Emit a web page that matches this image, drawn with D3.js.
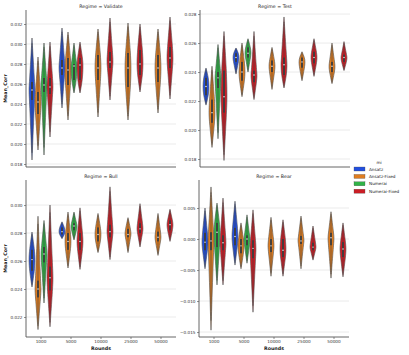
<!DOCTYPE html>
<html><head><meta charset="utf-8">
<script src="https://cdn.jsdelivr.net/npm/d3@7"></script>
<style>body{margin:0;background:#fff}svg{display:block}text{font-family:"DejaVu Sans",sans-serif}</style>
</head><body>
<svg id="c" width="409" height="355"></svg>
<script>
const rounds = ["1000","5000","10000","25000","50000"];
const models = ["Ansatz","Ansatz-Fixed","Numerai","Numerai-Fixed"];
const colors = ["#224fdf","#df7d20","#30b347","#cb1d25"];
// [round, model, low tip, q1, median, q3, high tip]
const validateStats = [
 ["1000","Ansatz",0.0184,0.0244,0.0254,0.0262,0.0306],
 ["1000","Ansatz-Fixed",0.0194,0.0230,0.0242,0.0252,0.0287],
 ["1000","Numerai",0.0189,0.0252,0.0259,0.0266,0.0301],
 ["1000","Numerai-Fixed",0.0207,0.0250,0.0257,0.0266,0.0302],
 ["5000","Ansatz",0.0236,0.0269,0.0276,0.0284,0.0316],
 ["5000","Ansatz-Fixed",0.0224,0.0259,0.0274,0.0286,0.0312],
 ["5000","Numerai",0.0251,0.0264,0.0278,0.0280,0.0301],
 ["5000","Numerai-Fixed",0.0251,0.0264,0.0279,0.0286,0.0302],
 ["10000","Ansatz-Fixed",0.0227,0.0264,0.0276,0.0289,0.0315],
 ["10000","Numerai-Fixed",0.0244,0.0276,0.0282,0.0292,0.0326],
 ["25000","Ansatz-Fixed",0.0224,0.0257,0.0276,0.0291,0.0321],
 ["25000","Numerai-Fixed",0.0252,0.0269,0.0280,0.0294,0.0320],
 ["50000","Ansatz-Fixed",0.0231,0.0262,0.0276,0.0289,0.0315],
 ["50000","Numerai-Fixed",0.0245,0.0276,0.0286,0.0297,0.0327]
];
const testStats = [
 ["1000","Ansatz",0.02172,0.0224,0.0230,0.0236,0.02428],
 ["1000","Ansatz-Fixed",0.0188,0.0205,0.0212,0.0221,0.0244],
 ["1000","Numerai",0.0194,0.0229,0.0236,0.0240,0.0259],
 ["1000","Numerai-Fixed",0.0179,0.0212,0.0223,0.0241,0.0268],
 ["5000","Ansatz",0.02386,0.0247,0.0250,0.0253,0.02566],
 ["5000","Ansatz-Fixed",0.0223,0.0234,0.0240,0.0247,0.0260],
 ["5000","Numerai",0.0240,0.0250,0.0253,0.0257,0.0263],
 ["5000","Numerai-Fixed",0.0221,0.0233,0.0238,0.0241,0.0268],
 ["10000","Ansatz-Fixed",0.0228,0.0240,0.0244,0.0248,0.0257],
 ["10000","Numerai-Fixed",0.0229,0.0238,0.0245,0.0250,0.0278],
 ["25000","Ansatz-Fixed",0.0234,0.0243,0.0247,0.0250,0.0254],
 ["25000","Numerai-Fixed",0.0237,0.0246,0.0250,0.0254,0.0263],
 ["50000","Ansatz-Fixed",0.0232,0.0240,0.0244,0.0247,0.0260],
 ["50000","Numerai-Fixed",0.0241,0.0247,0.0250,0.0252,0.0261]
];
const bullStats = [
 ["1000","Ansatz",0.02414,0.0253,0.0261,0.0268,0.02807],
 ["1000","Ansatz-Fixed",0.0211,0.0234,0.0240,0.0246,0.0292],
 ["1000","Numerai",0.0230,0.0259,0.0265,0.0270,0.0289],
 ["1000","Numerai-Fixed",0.0213,0.0239,0.0248,0.0256,0.0300],
 ["5000","Ansatz",0.0276,0.0279,0.0281,0.0284,0.0288],
 ["5000","Ansatz-Fixed",0.0255,0.0268,0.0274,0.0280,0.0295],
 ["5000","Numerai",0.0275,0.0282,0.0285,0.0287,0.0295],
 ["5000","Numerai-Fixed",0.0254,0.0268,0.0274,0.0280,0.0298],
 ["10000","Ansatz-Fixed",0.0266,0.0274,0.0279,0.0284,0.0294],
 ["10000","Numerai-Fixed",0.0261,0.0277,0.0281,0.0286,0.0313],
 ["25000","Ansatz-Fixed",0.0266,0.0277,0.0279,0.0283,0.0291],
 ["25000","Numerai-Fixed",0.0270,0.0280,0.0283,0.0287,0.0301],
 ["50000","Ansatz-Fixed",0.0264,0.0274,0.0277,0.0281,0.0294],
 ["50000","Numerai-Fixed",0.0274,0.0282,0.0286,0.0289,0.0297]
];
const bearStats = [
 ["1000","Ansatz",-0.0048,-0.0018,-0.0005,0.0010,0.0050],
 ["1000","Ansatz-Fixed",-0.0147,-0.0018,-0.0003,0.0011,0.0084],
 ["1000","Numerai",-0.0074,-0.0013,0.0011,0.0026,0.0058],
 ["1000","Numerai-Fixed",-0.0074,-0.0018,-0.0006,0.0006,0.0066],
 ["5000","Ansatz",-0.0042,-0.0010,0.0004,0.0018,0.0061],
 ["5000","Ansatz-Fixed",-0.0048,-0.0023,-0.0011,0.0000,0.0026],
 ["5000","Numerai",-0.0039,-0.0010,0.0000,0.0006,0.0039],
 ["5000","Numerai-Fixed",-0.0118,-0.0031,-0.0015,-0.0002,0.0047],
 ["10000","Ansatz-Fixed",-0.0060,-0.0021,-0.0011,0.0000,0.0035],
 ["10000","Numerai-Fixed",-0.0060,-0.0029,-0.0018,0.0000,0.0031],
 ["25000","Ansatz-Fixed",-0.0048,-0.0008,-0.0003,0.0005,0.0037],
 ["25000","Numerai-Fixed",-0.0034,-0.0018,-0.0013,-0.0006,0.0021],
 ["50000","Ansatz-Fixed",-0.0063,-0.0010,0.0002,0.0010,0.0044],
 ["50000","Numerai-Fixed",-0.0061,-0.0029,-0.0016,-0.0005,0.0026]
];
const validateTicks = [0.018,0.020,0.022,0.024,0.026,0.028,0.030,0.032];
const testTicks = [0.018,0.020,0.022,0.024,0.026,0.028];
const bullTicks = [0.022,0.024,0.026,0.028,0.030];
const bearTicks = [-0.015,-0.010,-0.005,0.000,0.005];

const panels = [
 {title:"Regime = Validate", data:validateStats, ticks:validateTicks, x0:26, x1:176, yTop:10, yBot:167, dom:[0.0177,0.0334], xlab:false},
 {title:"Regime = Test", data:testStats, ticks:testTicks, x0:200, x1:350, yTop:10, yBot:167, dom:[0.01745,0.02828], xlab:false},
 {title:"Regime = Bull", data:bullStats, ticks:bullTicks, x0:26, x1:176, yTop:180, yBot:337, dom:[0.02057,0.03179], xlab:true},
 {title:"Regime = Bear", data:bearStats, ticks:bearTicks, x0:199, x1:349, yTop:180, yBot:337, dom:[-0.0158,0.00952], xlab:true}
];
const svg = d3.select("#c");
const fmt = v => d3.format(".3f")(v).replace("-", "\u2212");
const colorOf = d3.scaleOrdinal().domain(models).range(colors);

panels.forEach((p, pi) => {
  const g = svg.append("g");
  const x = d3.scaleBand().domain(rounds).range([p.x0, p.x1]);
  const hue = d3.scaleBand().domain(models).range([0, x.bandwidth()*0.8]);
  const y = d3.scaleLinear().domain(p.dom).range([p.yBot, p.yTop]);
  // grid
  g.selectAll(".grid").data(p.ticks).enter().append("line")
    .attr("x1", p.x0).attr("x2", p.x1)
    .attr("y1", d => y(d)).attr("y2", d => y(d))
    .attr("stroke", "#e6e6e6").attr("stroke-width", 0.8);
  // y axis
  const ya = d3.axisLeft(y).tickValues(p.ticks).tickFormat(fmt).tickSize(2).tickPadding(1.5);
  const yg = g.append("g").attr("transform", `translate(${p.x0},0)`).call(ya);
  yg.select(".domain").remove();
  yg.selectAll("line").attr("stroke", "#444").attr("stroke-width", 0.6);
  yg.selectAll("text").attr("font-size", 4.2).attr("fill", "#333").attr("font-family", "DejaVu Sans");
  // x axis
  const xa = d3.axisBottom(x).tickSize(p.xlab ? 2 : 0).tickPadding(1.5).tickFormat(p.xlab ? (d=>d) : (()=> ""));
  const xg = g.append("g").attr("transform", `translate(0,${p.yBot})`).call(xa);
  xg.select(".domain").remove();
  xg.selectAll("line").attr("stroke", "#444").attr("stroke-width", 0.6);
  xg.selectAll("text").attr("font-size", 4.2).attr("fill", "#333").attr("font-family", "DejaVu Sans");
  // spines
  g.append("line").attr("x1", p.x0).attr("x2", p.x0).attr("y1", p.yTop).attr("y2", p.yBot).attr("stroke", "#555").attr("stroke-width", 0.9);
  g.append("line").attr("x1", p.x0).attr("x2", p.x1).attr("y1", p.yBot).attr("y2", p.yBot).attr("stroke", "#555").attr("stroke-width", 0.9);
  // title
  g.append("text").attr("x", (p.x0+p.x1)/2).attr("y", p.yTop - 2.5).attr("text-anchor", "middle")
    .attr("font-size", 4.7).attr("fill", "#222").text(p.title);
  // labels
  if (pi % 2 === 0) {
    g.append("text").attr("transform", `translate(7,${(p.yTop+p.yBot)/2}) rotate(-90)`)
      .attr("text-anchor", "middle").attr("font-size", 4.8).attr("font-weight", "bold").attr("fill", "#222").text("Mean_Corr");
  }
  if (p.xlab) {
    g.append("text").attr("x", (p.x0+p.x1)/2).attr("y", 350).attr("text-anchor", "middle")
      .attr("font-size", 4.8).attr("font-weight", "bold").attr("fill", "#222").text("Rounds");
  }
  // violins
  const hw = hue.bandwidth()/2;
  const area = d3.area().curve(d3.curveBasis)
    .y(d => y(d[0]));
  p.data.forEach(r => {
    const [rd, m, lo, q1, med, q3, hi] = r;
    const cx = x(rd) + x.bandwidth()*0.1 + hue(m) + hw;
    const prof = [[lo,0],[q1,0.8],[med,1],[q3,0.8],[hi,0]];
    area.x0(d => cx - d[1]*hw*1.05).x1(d => cx + d[1]*hw*1.05);
    g.append("path").attr("d", area(prof))
      .attr("fill", colorOf(m)).attr("stroke", "#4d4d4d").attr("stroke-width", 0.6);
    const wl = lo + (q1-lo)*0.12, wh = hi - (hi-q3)*0.12;
    g.append("line").attr("x1", cx).attr("x2", cx).attr("y1", y(wl)).attr("y2", y(wh))
      .attr("stroke", "#3d3d3d").attr("stroke-width", 0.6);
    g.append("rect").attr("x", cx-0.9).attr("width", 1.8)
      .attr("y", y(q3)).attr("height", y(q1)-y(q3)).attr("fill", "#3d3d3d");
    g.append("circle").attr("cx", cx).attr("cy", y(med)).attr("r", 0.7).attr("fill", "#fff");
  });
});

// legend
const lg = svg.append("g");
lg.append("text").attr("x", 379).attr("y", 163.5).attr("text-anchor", "middle").attr("font-size", 4.2).attr("fill", "#222").text("mi");
models.forEach((m, i) => {
  const yy = 169 + i*7.4;
  lg.append("rect").attr("x", 354).attr("y", yy-2).attr("width", 11).attr("height", 4)
    .attr("fill", colorOf(m)).attr("stroke", "#4d4d4d").attr("stroke-width", 0.3);
  lg.append("text").attr("x", 369).attr("y", yy+1.5).attr("font-size", 4.2).attr("fill", "#222").text(m);
});
</script>
</body></html>
